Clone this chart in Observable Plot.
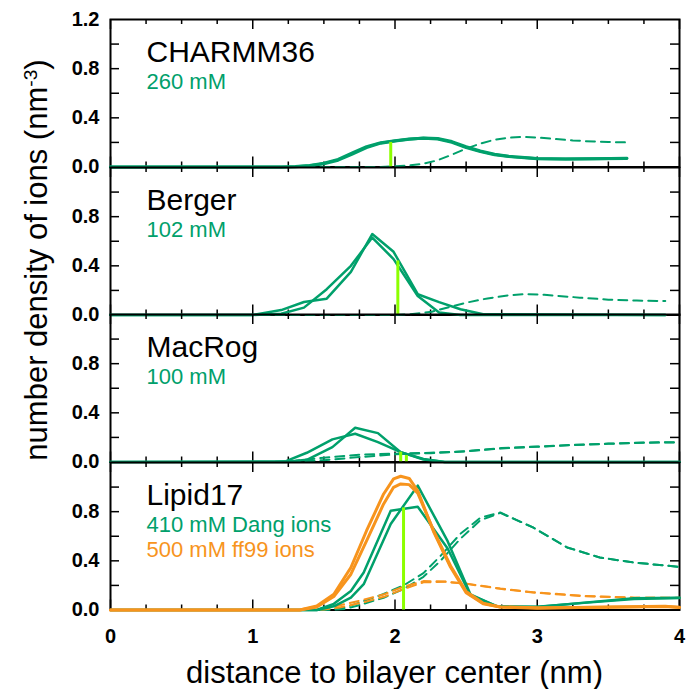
<!DOCTYPE html>
<html><head><meta charset="utf-8">
<script src="https://cdn.jsdelivr.net/npm/d3@7"></script>
<script src="https://cdn.jsdelivr.net/npm/@observablehq/plot@0.6"></script>
<style>
body{margin:0;background:#fff;}
#chart{position:relative;width:686px;height:689px;font-family:"Liberation Sans",Arial,sans-serif;overflow:hidden;}
#chart svg{position:absolute;left:0;}
.ytitle{position:absolute;left:36px;top:260px;transform:translate(-50%,-50%) rotate(-90deg);font-size:31px;line-height:1;white-space:nowrap;color:#000;}
.ytitle .sup{position:relative;top:-0.5em;font-size:0.62em;}
.xtitle{position:absolute;left:110px;width:569px;top:657px;text-align:center;font-size:31px;line-height:1;white-space:nowrap;color:#000;}
</style></head><body><div id="chart"></div>
<script>
// ---------- tick values ----------
const xMajor = [0, 1, 2, 3, 4];
const xMinor = [0.25, 0.5, 0.75, 1.25, 1.5, 1.75, 2.25, 2.5, 2.75, 3.25, 3.5, 3.75];
const yTickMarks = [0.2, 0.4, 0.6, 0.8, 1.0];
const yLabelsTop = [0, 0.4, 0.8, 1.2];
const yLabels = [0, 0.4, 0.8];

// ---------- labels ----------
const panelNames = ["CHARMM36", "Berger", "MacRog", "Lipid17"];
const panelNotes = ["260 mM", "102 mM", "100 mM", "410 mM Dang ions"];
const lipid17Note2 = "500 mM ff99 ions";

// ---------- CHARMM36 ----------
const c36X = [0, 1.2, 1.3, 1.4, 1.5, 1.6, 1.7, 1.8, 1.9, 2.0, 2.1, 2.2, 2.3, 2.4, 2.5, 2.6, 2.7, 2.8, 3.0, 3.2, 3.4, 3.63];
const c36SolidA = [0, 0, 0.004, 0.012, 0.03, 0.062, 0.115, 0.165, 0.198, 0.214, 0.227, 0.234, 0.228, 0.2, 0.158, 0.125, 0.1, 0.085, 0.068, 0.065, 0.067, 0.07];
const c36SolidB = [0, 0, 0.003, 0.01, 0.026, 0.055, 0.105, 0.158, 0.194, 0.212, 0.226, 0.236, 0.232, 0.207, 0.165, 0.13, 0.104, 0.088, 0.07, 0.066, 0.068, 0.072];
const c36DashX = [0, 1.9, 2.0, 2.1, 2.2, 2.3, 2.4, 2.5, 2.6, 2.7, 2.8, 2.9, 3.0, 3.1, 3.25, 3.4, 3.5, 3.63];
const c36Dash = [0, 0, 0.005, 0.013, 0.026, 0.055, 0.1, 0.15, 0.19, 0.222, 0.238, 0.245, 0.24, 0.23, 0.216, 0.207, 0.204, 0.2];
const c36LimeX = [1.97];
const c36LimeY = [0.2];

// ---------- Berger ----------
const bergerX = [0, 1.0, 1.2, 1.36, 1.52, 1.69, 1.84, 1.99, 2.16, 2.31, 2.46, 2.62, 3.9];
const bergerSolidA = [0, 0, 0.04, 0.106, 0.133, 0.351, 0.659, 0.514, 0.169, 0.105, 0.047, 0.006, 0];
const bergerSolidB = [0, 0, 0.01, 0.06, 0.21, 0.4, 0.63, 0.455, 0.155, 0.02, 0, 0, 0];
const bergerDashX = [0, 2.0, 2.1, 2.26, 2.4, 2.5, 2.65, 2.8, 2.9, 3.05, 3.3, 3.5, 3.7, 3.9];
const bergerDash = [0, 0, 0.005, 0.027, 0.07, 0.1, 0.135, 0.16, 0.169, 0.165, 0.141, 0.125, 0.117, 0.114];
const bergerLimeX = [2.02];
const bergerLimeY = [0.44];

// ---------- MacRog ----------
const macX = [0, 1.23, 1.38, 1.56, 1.72, 1.88, 2.04, 2.2, 2.35, 4.0];
const macSolidA = [0, 0, 0.018, 0.121, 0.279, 0.235, 0.08, 0.02, 0, 0];
const macSolidB = [0, 0.005, 0.075, 0.184, 0.23, 0.162, 0.08, 0.025, 0, 0];
const macDashX = [0, 1.1, 1.3, 1.5, 1.75, 2.0, 2.25, 2.5, 2.75, 3.0, 3.25, 3.5, 3.75, 4.0];
const macDashA = [0, 0, 0.01, 0.035, 0.06, 0.068, 0.075, 0.088, 0.113, 0.126, 0.14, 0.15, 0.158, 0.162];
const macDashB = [0, 0, 0.003, 0.015, 0.04, 0.062, 0.072, 0.086, 0.11, 0.124, 0.138, 0.148, 0.156, 0.16];
const macLimeX = [2.04, 2.08];
const macLimeY = [0.08, 0.053];

// ---------- Lipid17 ----------
const l17GreenX = [0, 1.45, 1.57, 1.69, 1.78, 1.97, 2.16, 2.37, 2.53, 2.72, 3.0, 3.33, 3.68, 4.0];
const l17GreenA = [0, 0, 0.03, 0.1, 0.21, 0.7, 1.012, 0.56, 0.128, 0.027, 0.024, 0.06, 0.095, 0.1];
const l17GreenB = [0, 0, 0.05, 0.155, 0.305, 0.808, 0.84, 0.5, 0.12, 0.03, 0.026, 0.058, 0.09, 0.098];
const l17OrangeX = [0, 1.33, 1.45, 1.57, 1.69, 1.8, 1.92, 1.99, 2.04, 2.1, 2.16, 2.27, 2.39, 2.5, 2.62, 2.74, 3.0, 3.5, 3.9, 4.0];
const l17OrangeA = [0, 0, 0.033, 0.128, 0.346, 0.645, 0.944, 1.067, 1.088, 1.07, 0.97, 0.64, 0.35, 0.14, 0.05, 0.024, 0.015, 0.025, 0.03, 0.02];
const l17OrangeB = [0, 0, 0.025, 0.11, 0.291, 0.563, 0.863, 0.998, 1.026, 1.02, 0.95, 0.65, 0.36, 0.15, 0.055, 0.025, 0.018, 0.022, 0.028, 0.022];
const l17GreenDashX = [0, 1.5, 1.65, 1.78, 1.92, 2.06, 2.2, 2.32, 2.46, 2.6, 2.74, 2.97, 3.21, 3.44, 3.68, 4.0];
const l17GreenDashA = [0, 0, 0.02, 0.073, 0.13, 0.2, 0.3, 0.44, 0.62, 0.75, 0.794, 0.672, 0.509, 0.427, 0.386, 0.351];
const l17GreenDashB = [0, 0, 0.008, 0.05, 0.1, 0.17, 0.27, 0.4, 0.58, 0.73, 0.79, 0.672, 0.509, 0.427, 0.386, 0.351];
const l17OrangeDashX = [0, 1.35, 1.5, 1.6, 1.77, 1.93, 2.06, 2.2, 2.35, 2.5, 2.74, 2.97, 3.33, 3.68, 4.0];
const l17OrangeDashA = [0, 0, 0.012, 0.035, 0.08, 0.13, 0.19, 0.235, 0.232, 0.215, 0.175, 0.145, 0.115, 0.1, 0.1];
const l17OrangeDashB = [0, 0, 0.005, 0.018, 0.06, 0.11, 0.17, 0.225, 0.23, 0.213, 0.172, 0.142, 0.112, 0.1, 0.098];
const l17LimeX = [2.06];
const l17LimeY = [0.83];

// ---------- styling ----------
const GREEN = "#00a06b", ORANGE = "#f7941d", LIME = "#8cff00";
const DASH = "9,6";
const rows = (xs, ys) => xs.map((x, i) => ({x, y: ys[i]}));

const panels = [
  {name: panelNames[0], notes: [[panelNotes[0], GREEN]], yl: yLabelsTop,
   dashed: [[c36DashX, c36Dash, GREEN]],
   solid: [[c36X, c36SolidA, GREEN, 3], [c36X, c36SolidB, GREEN, 3]],
   lime: [c36LimeX, c36LimeY]},
  {name: panelNames[1], notes: [[panelNotes[1], GREEN]], yl: yLabels,
   dashed: [[bergerDashX, bergerDash, GREEN]],
   solid: [[bergerX, bergerSolidA, GREEN, 2.5], [bergerX, bergerSolidB, GREEN, 2.5]],
   lime: [bergerLimeX, bergerLimeY]},
  {name: panelNames[2], notes: [[panelNotes[2], GREEN]], yl: yLabels,
   dashed: [[macDashX, macDashA, GREEN], [macDashX, macDashB, GREEN]],
   solid: [[macX, macSolidA, GREEN, 2.5], [macX, macSolidB, GREEN, 2.5]],
   lime: [macLimeX, macLimeY]},
  {name: panelNames[3], notes: [[panelNotes[3], GREEN], [lipid17Note2, ORANGE]], yl: yLabels,
   dashed: [[l17GreenDashX, l17GreenDashA, GREEN], [l17GreenDashX, l17GreenDashB, GREEN],
            [l17OrangeDashX, l17OrangeDashA, ORANGE], [l17OrangeDashX, l17OrangeDashB, ORANGE]],
   solid: [[l17GreenX, l17GreenA, GREEN, 2.5], [l17GreenX, l17GreenB, GREEN, 2.5],
           [l17OrangeX, l17OrangeA, ORANGE, 3], [l17OrangeX, l17OrangeB, ORANGE, 3]],
   lime: [l17LimeX, l17LimeY]}
];

const W = 686, ML = 110, MR = 7, IH = 147.5, TOP0 = 19, MT = 12;
const IW = W - ML - MR;
const chart = document.getElementById("chart");

panels.forEach((p, i) => {
  const last = i === panels.length - 1;
  const MB = last ? 45 : 12;
  const marks = [
    Plot.frame({stroke: "black", strokeWidth: 2}),
    Plot.tickY(yTickMarks, {y: d => d, insetRight: IW - 9, stroke: "black", strokeWidth: 1.5}),
    Plot.tickY(yTickMarks, {y: d => d, insetLeft: IW - 9, stroke: "black", strokeWidth: 1.5}),
    Plot.tickX(xMajor, {x: d => d, insetTop: IH - 10, stroke: "black", strokeWidth: 1.5}),
    Plot.tickX(xMinor, {x: d => d, insetTop: IH - 5, stroke: "black", strokeWidth: 1.5}),
    Plot.tickX(xMajor, {x: d => d, insetBottom: IH - 10, stroke: "black", strokeWidth: 1.5}),
    Plot.tickX(xMinor, {x: d => d, insetBottom: IH - 5, stroke: "black", strokeWidth: 1.5}),
    Plot.axisY(p.yl, {tickSize: 0, tickPadding: 11, tickFormat: d3.format(".1f"), fontSize: 20, fontWeight: "bold", label: null}),
    ...p.dashed.map(([xs, ys, c]) => Plot.line(rows(xs, ys), {x: "x", y: "y", stroke: c, strokeWidth: 2, strokeDasharray: DASH})),
    ...p.solid.map(([xs, ys, c, w]) => Plot.line(rows(xs, ys), {x: "x", y: "y", stroke: c, strokeWidth: w})),
    Plot.ruleX(rows(p.lime[0], p.lime[1]), {x: "x", y: "y", stroke: LIME, strokeWidth: 3}),
    Plot.text([p.name], {text: d => d, frameAnchor: "top-left", dx: 36, dy: 42, lineAnchor: "bottom", textAnchor: "start", fontSize: 30, fill: "black"}),
    ...p.notes.map(([t, c], k) => Plot.text([t], {text: d => d, frameAnchor: "top-left", dx: 36, dy: 69 + k * 25, lineAnchor: "bottom", textAnchor: "start", fontSize: 22, fill: c}))
  ];
  if (last) marks.push(Plot.axisX(xMajor, {tickSize: 0, tickPadding: 19, tickFormat: d => String(d), fontSize: 20, fontWeight: "bold", label: null}));
  const svg = Plot.plot({
    width: W, height: MT + IH + MB,
    marginLeft: ML, marginRight: MR, marginTop: MT, marginBottom: MB,
    x: {domain: [0, 4], axis: last ? undefined : null},
    y: {domain: [0, 1.2]},
    style: {background: "transparent", fontFamily: "'Liberation Sans', Arial, sans-serif", overflow: "visible"},
    marks
  });
  svg.style.top = (TOP0 + i * IH - MT) + "px";
  chart.appendChild(svg);
});

const yt = document.createElement("div");
yt.className = "ytitle";
yt.innerHTML = 'number density of ions (nm<span class="sup">-3</span>)';
chart.appendChild(yt);
const xt = document.createElement("div");
xt.className = "xtitle";
xt.textContent = "distance to bilayer center (nm)";
chart.appendChild(xt);
</script></body></html>
